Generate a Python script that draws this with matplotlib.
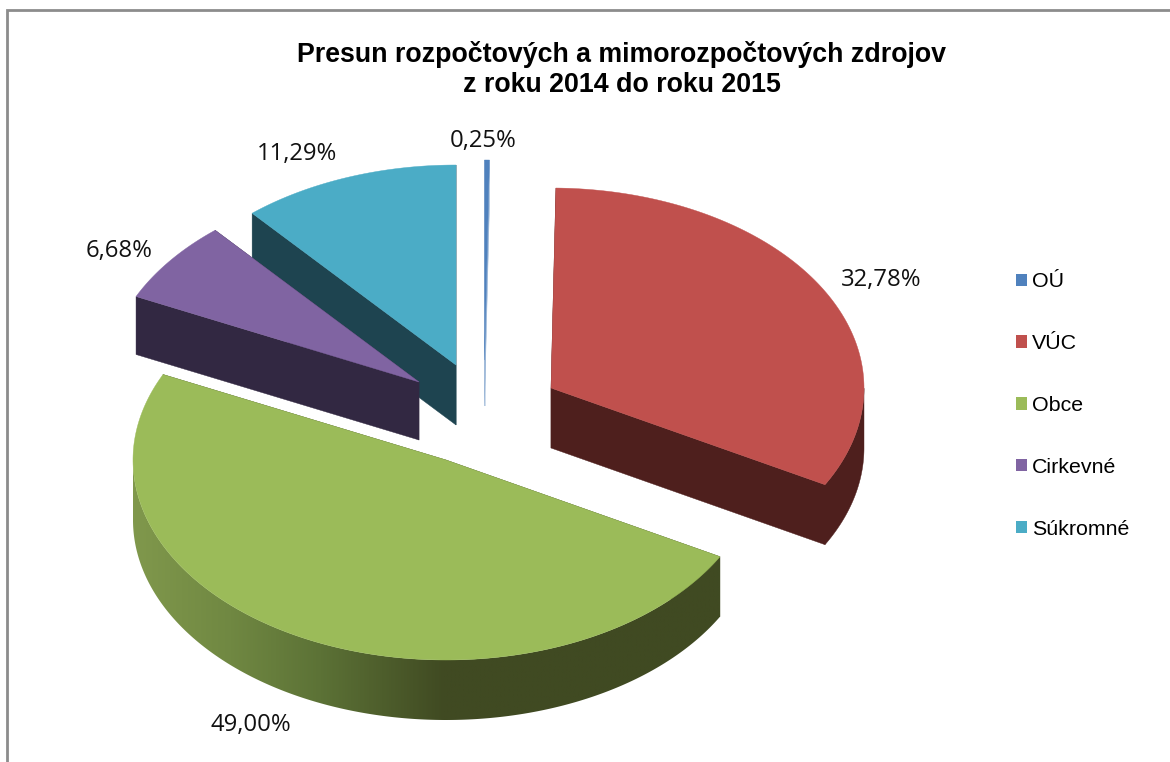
import numpy as np
import matplotlib
matplotlib.use("Agg")
import matplotlib.pyplot as plt
from matplotlib.colors import LinearSegmentedColormap
from matplotlib.patches import Polygon, Patch, Rectangle

# ---- data ----
categories = ["OÚ", "VÚC", "Obce", "Cirkevné", "Súkromné"]
values = [0.25, 32.78, 49.00, 6.68, 11.29]
value_labels = ["0,25%", "32,78%", "49,00%", "6,68%", "11,29%"]
title_text = "Presun rozpočtových a mimorozpočtových zdrojov\nz roku 2014 do roku 2015"

# ---- styles ----
top_colors = ["#4F81BD", "#C0504D", "#9BBB59", "#8064A2", "#4BACC6"]
side_colors = ["#8FAED3", "#4E1F1D", "#3F4A22", "#322842", "#1E4450"]
centers = [(484.5, 360), (551, 388), (446, 460), (419, 382), (456, 365)]
depths = [46, 60, 60, 58, 60]
label_pos = [(483, 141), (881, 280), (251, 725), (119, 251), (297, 154)]
RX, RY = 313, 200

W, H = 1170, 762
fig = plt.figure(figsize=(W / 100, H / 100), dpi=100)
ax = fig.add_axes([0, 0, 1, 1])

# frame of the chart area (open on the right and at the bottom, as cropped)
ax.add_patch(Rectangle((6.5, 9.5), W + 20, H + 20, fc="white", ec="#8C8C8C", lw=2, zorder=0))

frac = np.array(values) / sum(values)
ends = np.cumsum(frac) * 360
starts = ends - frac * 360

shade = LinearSegmentedColormap.from_list(
    "shade",
    [(0.0, "#80984C"), (0.31, "#708842"), (0.6, "#5C7236"), (1.0, "#404A22")],
)


def rim(c, a0, a1, n=200):
    t = np.radians(np.linspace(a0, a1, n))
    return np.column_stack([c[0] + RX * np.sin(t), c[1] - RY * np.cos(t)])


def draw(i, z):
    c, a0, a1 = centers[i], starts[i], ends[i]
    down = np.array([0, depths[i]])
    apex = np.array(c, float)
    arc = rim(c, a0, a1)
    # flat cut walls
    for p in (arc[0], arc[-1]):
        ax.add_patch(Polygon([apex, p, p + down, apex + down], fc=side_colors[i], ec=side_colors[i], lw=0.3, zorder=z))
    # outer rim, only where it faces the viewer
    t = np.linspace(a0, a1, 721)
    t = t[np.cos(np.radians(t)) < 0]
    if len(t):
        p = rim(c, t[0], t[-1], len(t))
        outline = np.vstack([p, (p + down)[::-1]])
        if i == 2:
            # gradient shading across the front of the big slice
            poly = Polygon(outline, fc="none", ec="none", zorder=z)
            ax.add_patch(poly)
            grad = np.clip((np.linspace(133, 760, 600) - 133) / (445 - 133), 0, 1)[None, :]
            im = ax.imshow(grad, extent=(133, 760, 760, 440), aspect="auto", cmap=shade,
                           vmin=0, vmax=1, zorder=z, interpolation="bilinear")
            im.set_clip_path(poly)
        else:
            ax.add_patch(Polygon(outline, fc=side_colors[i], ec=side_colors[i], lw=0.3, zorder=z))
    ax.add_patch(Polygon(np.vstack([apex, arc]), fc=top_colors[i], ec=top_colors[i], lw=0.3, zorder=z + 0.5))


for order, i in enumerate([4, 3, 0, 1, 2]):
    draw(i, 2 + order)

ax.set_xlim(0, W)
ax.set_ylim(H, 0)
ax.axis("off")

for lab, (x, y) in zip(value_labels, label_pos):
    ax.text(x, y, lab, ha="center", va="center", fontsize=17.2, family="Open Sans", color="#111111", zorder=10)

ax.text(621.5, 69.5, title_text, ha="center", va="center", fontsize=19.25, fontweight="bold",
        family="Liberation Sans", color="black", linespacing=1.24, zorder=10)

handles = [Patch(fc=c, ec="none") for c in top_colors]
ax.legend(handles, categories, loc="center left", bbox_to_anchor=(1016 / W, 1 - 405.5 / H),
          bbox_transform=fig.transFigure, frameon=False, handlelength=0.51, handleheight=0.51,
          handletextpad=0.22, labelspacing=2.0, borderpad=0, borderaxespad=0,
          prop={"family": "Liberation Sans", "size": 15.4})

fig.savefig("out.png", dpi=100, facecolor="white")
